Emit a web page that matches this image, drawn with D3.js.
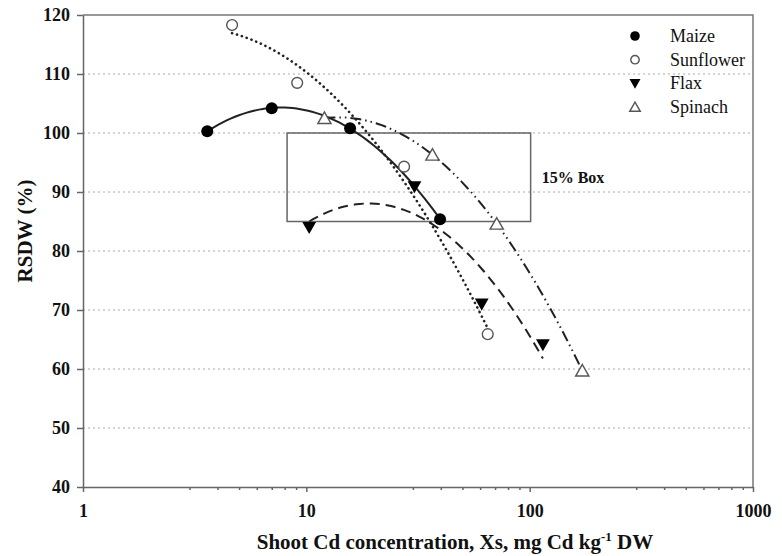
<!DOCTYPE html>
<meta charset="UTF-8">
<style>
body { margin: 0; background: #fff; }
svg text { font-family: "Liberation Serif", "Times New Roman", serif; fill: #111; }
.grid line { stroke: #aaa; stroke-width: 1; stroke-dasharray: 2,3; }
.axis path, .axis line { stroke: #666; stroke-width: 1.5; }
.axis text { font-size: 18px; font-weight: bold; font-family: "Liberation Serif", serif; }
</style>
<body>
<script src="https://d3js.org/d3.v7.min.js"></script>
<script>

// data (x = shoot Cd, y = RSDW %)
var maizeX = [3.6, 7.0, 15.7, 39.7];
var maizeY = [100.3, 104.2, 100.8, 85.4];
var sunflowerX = [4.65, 9.1, 27.4, 64.9];
var sunflowerY = [118.3, 108.5, 94.3, 65.9];
var flaxX = [10.3, 30.5, 61, 114.6];
var flaxY = [84, 90.9, 71, 64.1];
var spinachX = [12.05, 36.7, 71.2, 172];
var spinachY = [102.5, 96.3, 84.6, 59.7];

var speciesNames = ["Maize", "Sunflower", "Flax", "Spinach"];
var xTicks = [1, 10, 100, 1000];
var yTicks = [40, 50, 60, 70, 80, 90, 100, 110, 120];
var boxX = [8.2, 101];
var boxY = [85, 100];

var W = 782, H = 556;
var margin = {top: 15, right: 29, bottom: 69, left: 83},
    width = W - margin.left - margin.right,
    height = H - margin.top - margin.bottom;

var svg = d3.select("body").append("svg")
    .attr("width", W)
    .attr("height", H);

var g = svg.append("g")
    .attr("transform", "translate(" + margin.left + "," + margin.top + ")");

var x = d3.scaleLog().domain([1, 1000]).range([0, width]);
var y = d3.scaleLinear().domain([40, 120]).range([height, 0]);

// dotted gridlines
g.append("g").attr("class", "grid")
  .selectAll("line")
  .data(yTicks.filter(function(d) { return d > 40 && d < 120; }))
  .enter().append("line")
    .attr("x1", 0).attr("x2", width)
    .attr("y1", function(d) { return y(d); })
    .attr("y2", function(d) { return y(d); });

// frame top / right
g.append("path")
    .attr("d", "M0,0H" + width + "V" + height)
    .attr("fill", "none")
    .attr("stroke", "#777")
    .attr("stroke-width", 1.5);

// minor ticks 3..9 in each decade
var minor = [];
[1, 10, 100].forEach(function(dec) {
  for (var k = 3; k <= 9; k++) minor.push(dec * k);
});
g.append("g").attr("class", "axis")
    .attr("transform", "translate(0," + height + ")")
    .call(d3.axisBottom(x).tickValues(minor).tickSize(3).tickFormat(""))
    .select(".domain").remove();

g.append("g").attr("class", "axis")
    .attr("transform", "translate(0," + height + ")")
    .call(d3.axisBottom(x).tickValues(xTicks).tickSize(5).tickSizeOuter(0)
      .tickPadding(12).tickFormat(d3.format("d")));

g.append("g").attr("class", "axis")
    .call(d3.axisLeft(y).tickValues(yTicks).tickSize(6).tickSizeOuter(0)
      .tickPadding(7));

// 15% box
g.append("rect")
    .attr("x", x(boxX[0]))
    .attr("y", y(boxY[1]))
    .attr("width", x(boxX[1]) - x(boxX[0]))
    .attr("height", y(boxY[0]) - y(boxY[1]))
    .attr("fill", "none")
    .attr("stroke", "#666")
    .attr("stroke-width", 1.5);

g.append("text")
    .attr("x", x(boxX[1]) + 11)
    .attr("y", y((boxY[0] + boxY[1]) / 2) + 6)
    .style("font-size", "16px")
    .style("font-weight", "bold")
    .text("15% Box");

// least squares quadratic in log10(x)
function quadFit(xs, ys) {
  var u = xs.map(function(v) { return Math.log10(v); });
  var S = [0, 0, 0, 0, 0], T = [0, 0, 0];
  for (var i = 0; i < u.length; i++) {
    var p = 1;
    for (var k = 0; k < 5; k++) { S[k] += p; if (k < 3) T[k] += p * ys[i]; p *= u[i]; }
  }
  var A = [[S[0], S[1], S[2], T[0]], [S[1], S[2], S[3], T[1]], [S[2], S[3], S[4], T[2]]];
  for (var c = 0; c < 3; c++) {
    for (var r = c + 1; r < 3; r++) {
      var f = A[r][c] / A[c][c];
      for (var j = c; j < 4; j++) A[r][j] -= f * A[c][j];
    }
  }
  var coef = [0, 0, 0];
  for (var r2 = 2; r2 >= 0; r2--) {
    var s = A[r2][3];
    for (var j2 = r2 + 1; j2 < 3; j2++) s -= A[r2][j2] * coef[j2];
    coef[r2] = s / A[r2][r2];
  }
  return coef;
}

var series = [
  {name: "Maize", xs: maizeX, ys: maizeY, dash: null, cap: "butt", sw: 2},
  {name: "Sunflower", xs: sunflowerX, ys: sunflowerY, dash: "0.1,5", cap: "round", sw: 2.6},
  {name: "Flax", xs: flaxX, ys: flaxY, dash: "10,6", cap: "butt", sw: 2},
  {name: "Spinach", xs: spinachX, ys: spinachY, dash: "11,4,1.5,4,1.5,4", cap: "butt", sw: 2}
];

var line = d3.line()
    .x(function(d) { return x(d[0]); })
    .y(function(d) { return y(d[1]); });

series.forEach(function(s) {
  var c = quadFit(s.xs, s.ys);
  var lo = Math.log10(d3.min(s.xs)), hi = Math.log10(d3.max(s.xs));
  var pts = d3.range(0, 61).map(function(i) {
    var u = lo + (hi - lo) * i / 60;
    return [Math.pow(10, u), c[0] + c[1] * u + c[2] * u * u];
  });
  g.append("path")
      .datum(pts)
      .attr("d", line)
      .attr("fill", "none")
      .attr("stroke", "#222")
      .attr("stroke-width", s.sw)
      .attr("stroke-linecap", s.cap)
      .attr("stroke-dasharray", s.dash);
});

// marker drawing
function marker(sel, name, size) {
  if (name === "Maize") {
    sel.append("circle").attr("r", size).attr("fill", "#000");
  } else if (name === "Sunflower") {
    sel.append("circle").attr("r", size - 0.6).attr("fill", "#fff")
        .attr("stroke", "#555").attr("stroke-width", 1.4);
  } else if (name === "Flax") {
    var a = size * 1.15;
    sel.append("path").attr("d", "M" + (-a) + "," + (-a * 0.8) + "L" + a + "," + (-a * 0.8) + "L0," + (a * 0.95) + "Z")
        .attr("fill", "#000");
  } else {
    var b = size * 1.1;
    sel.append("path").attr("d", "M" + (-b) + "," + (b * 0.8) + "L" + b + "," + (b * 0.8) + "L0," + (-b * 0.95) + "Z")
        .attr("fill", "#fff").attr("stroke", "#555").attr("stroke-width", 1.4);
  }
}

series.forEach(function(s) {
  s.xs.forEach(function(xv, i) {
    var m = g.append("g")
        .attr("transform", "translate(" + x(xv) + "," + y(s.ys[i]) + ")");
    marker(m, s.name, 6);
  });
});

// legend
var legend = svg.append("g").attr("transform", "translate(635,36)");
speciesNames.forEach(function(n, i) {
  var row = legend.append("g").attr("transform", "translate(0," + (i * 23.7) + ")");
  marker(row, n, 4.8);
  row.append("text")
      .attr("x", 35).attr("y", 6)
      .style("font-size", "18px")
      .text(n);
});

// axis titles
var xt = svg.append("text")
    .attr("x", 455).attr("y", 549)
    .attr("text-anchor", "middle")
    .style("font-size", "21px")
    .style("font-weight", "bold");
xt.append("tspan").text("Shoot Cd concentration, Xs, mg Cd kg");
xt.append("tspan").attr("dy", -8).style("font-size", "13px").text("-1");
xt.append("tspan").attr("dy", 8).text(" DW");

svg.append("text")
    .attr("transform", "translate(32,231) rotate(-90)")
    .attr("text-anchor", "middle")
    .style("font-size", "21px")
    .style("font-weight", "bold")
    .text("RSDW (%)");

</script>
</body>
